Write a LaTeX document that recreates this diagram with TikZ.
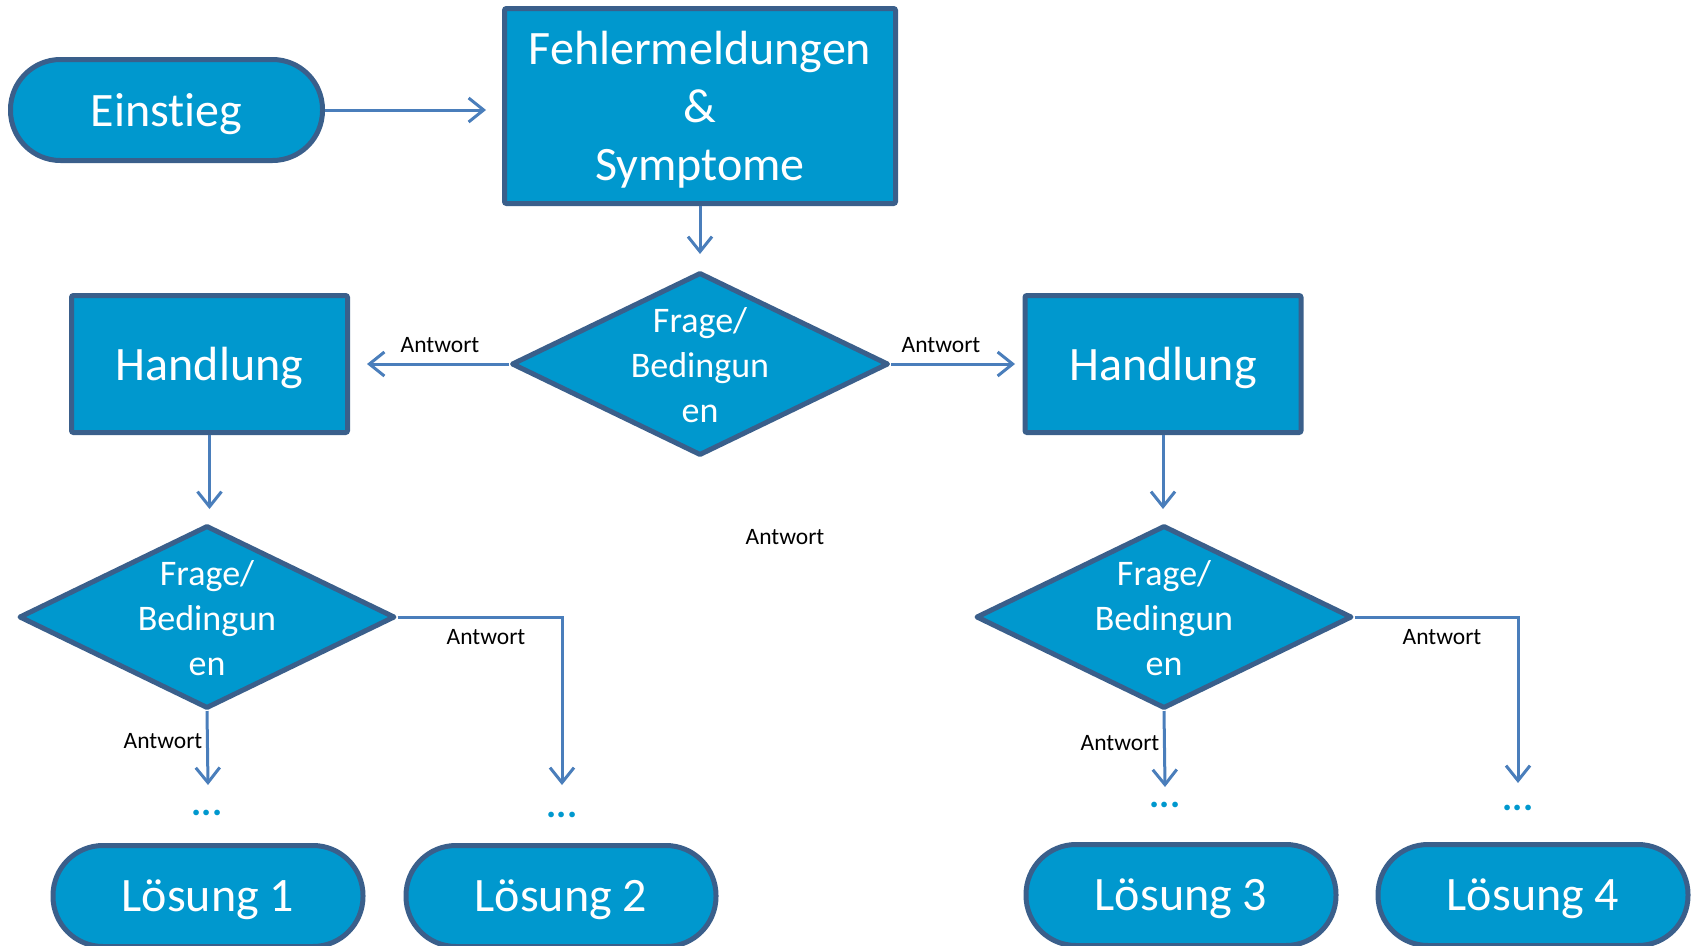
\documentclass[tikz,border=0pt]{standalone}
\usepackage{fontspec}
\setmainfont{Carlito}[Ligatures=NoCommon]
\usetikzlibrary{shapes.geometric,arrows.meta}
\definecolor{fillc}{RGB}{0,152,206}
\definecolor{bord}{RGB}{58,95,139}
\definecolor{arrc}{RGB}{74,126,187}
\tikzset{
  box/.style={draw=bord, fill=fillc, line width=5pt, text=white, rounded corners=2pt,
    inner sep=0pt, align=center, text depth=0pt, font=\fontsize{48}{58}\selectfont},
  term/.style={box, rounded corners=50pt},
  dia/.style={diamond, draw=bord, fill=fillc, line width=5pt, line join=round, inner sep=0pt},
  dtext/.style={text=white, align=center, inner sep=0pt, font=\fontsize{36}{45}\selectfont},
  arr/.style={draw=arrc, line width=3pt, -{Straight Barb[length=15pt,width=24pt]}},
  lbl/.style={inner sep=0pt, font=\fontsize{23.5}{28}\selectfont},
  dotsty/.style={inner sep=0pt, text=fillc, font=\bfseries\fontsize{38}{40}\selectfont}
}
\begin{document}
\begin{tikzpicture}[x=1pt,y=-1pt]
\useasboundingbox (0,0) rectangle (1691,945);
% nodes
\node[term, minimum width=312pt, minimum height=101pt] (ein) at (166.5,110) {Einstieg};
\node[box, minimum width=391pt, minimum height=195pt] (fehl) at (700,106) {Fehlermeldungen\\\&\\Symptome};
\node[dia, minimum width=377pt, minimum height=183pt] (d1) at (700,364) {};
\node[dtext] (d1t) at (700,365) {Frage/\\Bedingun\\en};
\node[box, minimum width=276pt, minimum height=137pt] (h1) at (209.5,364) {Handlung};
\node[box, minimum width=276pt, minimum height=137pt] (h2) at (1163,364) {Handlung};
\node[dia, minimum width=376pt, minimum height=183pt] (d2) at (207,617) {};
\node[dtext] (d2t) at (207,618) {Frage/\\Bedingun\\en};
\node[dia, minimum width=376pt, minimum height=183pt] (d3) at (1164,617) {};
\node[dtext] (d3t) at (1164,618) {Frage/\\Bedingun\\en};
\node[dotsty] (p1) at (207,813) {...};
\node[dotsty] (p2) at (562,815) {...};
\node[dotsty] (p3) at (1165,805) {...};
\node[dotsty] (p4) at (1518,808) {...};
\node[term, minimum width=310pt, minimum height=101pt] (l1) at (208,896) {Lösung 1};
\node[term, minimum width=310pt, minimum height=101pt] (l2) at (561,896) {Lösung 2};
\node[term, minimum width=310pt, minimum height=101pt] (l3) at (1181,895) {Lösung 3};
\node[term, minimum width=310pt, minimum height=101pt] (l4) at (1533,895) {Lösung 4};
% labels
\node[lbl] (a1) at (440,345) {Antwort};
\node[lbl] (a2) at (941,345) {Antwort};
\node[lbl] (a3) at (785,537) {Antwort};
\node[lbl] (a4) at (163,741) {Antwort};
\node[lbl] (a5) at (486,637) {Antwort};
\node[lbl] (a6) at (1120,743) {Antwort};
\node[lbl] (a7) at (1442,637) {Antwort};
% free ends
\coordinate (e1) at (486,110);
\coordinate (e2) at (700,254);
\coordinate (e3) at (367,364);
\coordinate (e4) at (1015,364);
\coordinate (e5) at (209.5,509);
\coordinate (e6) at (1163,509);
\coordinate (e7) at (208,785);
\coordinate (e8) at (562,785);
\coordinate (e9) at (1165,787);
\coordinate (e10) at (1518,783);
% connectors
\draw[arr] (ein.east) -- (e1);
\draw[arr] (fehl.south) -- (e2);
\draw[arr] (d1.west) -- (e3);
\draw[arr] (d1.east) -- (e4);
\draw[arr] (h1.south) -- (e5);
\draw[arr] (h2.south) -- (e6);
\draw[arr] (d2.south) -- (e7);
\draw[arr] (d2.east) -| (e8);
\draw[arr] (d3.south) -- (e9);
\draw[arr] (d3.east) -| (e10);
\end{tikzpicture}
\end{document}
